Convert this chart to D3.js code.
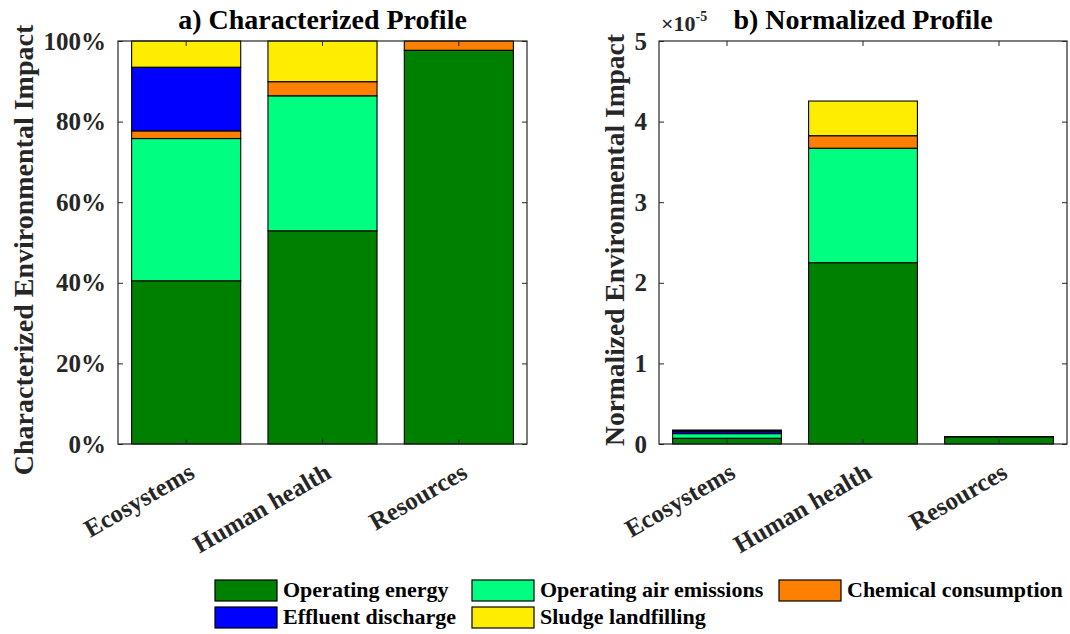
<!DOCTYPE html>
<html>
<head>
<meta charset="utf-8">
<script src="https://cdn.jsdelivr.net/npm/d3@7/dist/d3.min.js"></script>
<style>
  html, body { margin: 0; padding: 0; background: #fff; }
  svg { display: block; }
  text { font-family: "Liberation Serif", "Times New Roman", serif; font-weight: bold; }
</style>
</head>
<body>
<svg id="chart" width="1070" height="634"></svg>
<script>
// Impact categories (x axis)
const categories = ["Ecosystems", "Human health", "Resources"];

// Contributing processes, stacked bottom to top
const seriesNames = ["Operating energy", "Operating air emissions", "Chemical consumption",
                     "Effluent discharge", "Sludge landfilling"];
const seriesColors = ["#008000", "#00ff80", "#ff8000", "#0000ff", "#ffed00"];

// a) characterized contributions, percent of each category
const charEnergy   = [40.5, 52.9, 97.7];
const charAir      = [35.3, 33.5, 0];
const charChemical = [1.9, 3.5, 2.3];
const charEffluent = [15.8, 0, 0];
const charSludge   = [6.5, 10.1, 0];

// b) normalized impacts, in units of 1e-5
const normEnergy   = [0.071, 2.25, 0.089];
const normAir      = [0.058, 1.42, 0];
const normChemical = [0.003, 0.155, 0.002];
const normEffluent = [0.029, 0, 0];
const normSludge   = [0.012, 0.43, 0];

const percentTicks = [0, 20, 40, 60, 80, 100];
const normTicks = [0, 1, 2, 3, 4, 5];

const svg = d3.select("#chart");

function buildRows(cols) {
  return categories.map((c, i) => {
    const row = { category: c };
    seriesNames.forEach((s, k) => { row[s] = cols[k][i]; });
    return row;
  });
}

function drawPanel(opts) {
  const { left, right, top, bottom, rows, yMax, ticks, tickFmt, title, yLabel } = opts;
  const g = svg.append("g");

  const x = d3.scaleBand().domain(categories).range([left, right])
    .paddingInner(0.2).paddingOuter(0.1);
  const y = d3.scaleLinear().domain([0, yMax]).range([bottom, top]);

  const stack = d3.stack().keys(seriesNames)(rows);

  // stacked bars
  stack.forEach((layer, k) => {
    g.append("g")
      .selectAll("rect")
      .data(layer.filter(d => d[1] - d[0] > 0))
      .join("rect")
      .attr("x", d => x(d.data.category))
      .attr("width", x.bandwidth())
      .attr("y", d => y(d[1]))
      .attr("height", d => y(d[0]) - y(d[1]))
      .attr("fill", seriesColors[k])
      .attr("stroke", "#000")
      .attr("stroke-width", 1.1);
  });

  // axes with inward ticks on all four sides
  const tickLen = 5;
  const axL = g.append("g").attr("transform", `translate(${left},0)`)
    .call(d3.axisLeft(y).tickValues(ticks).tickFormat(tickFmt).tickSizeInner(-tickLen).tickSizeOuter(0).tickPadding(12));
  const axR = g.append("g").attr("transform", `translate(${right},0)`)
    .call(d3.axisRight(y).tickValues(ticks).tickFormat("").tickSizeInner(-tickLen).tickSizeOuter(0));
  const axB = g.append("g").attr("transform", `translate(0,${bottom})`)
    .call(d3.axisBottom(x).tickSizeInner(-tickLen).tickSizeOuter(0).tickFormat(""));
  const axT = g.append("g").attr("transform", `translate(0,${top})`)
    .call(d3.axisTop(x).tickSizeInner(-tickLen).tickSizeOuter(0).tickFormat(""));
  [axL, axR, axB, axT].forEach(a => {
    a.select(".domain").remove();
    a.selectAll(".tick line").attr("stroke", "#262626").attr("stroke-width", 1);
  });
  axL.selectAll(".tick text")
    .attr("font-size", 25).attr("font-family", "Liberation Serif").attr("font-weight", "bold")
    .attr("fill", "#262626");

  // axes box
  g.append("rect")
    .attr("x", left).attr("y", top)
    .attr("width", right - left).attr("height", bottom - top)
    .attr("fill", "none").attr("stroke", "#262626").attr("stroke-width", 1.2);

  // rotated category labels
  g.append("g").selectAll("text")
    .data(categories)
    .join("text")
    .attr("transform", d => `translate(${x(d) + x.bandwidth() / 2 + 10},${bottom + 33}) rotate(-30)`)
    .attr("text-anchor", "end")
    .attr("font-size", 25)
    .attr("fill", "#262626")
    .text(d => d);

  // title
  g.append("text")
    .attr("x", (left + right) / 2).attr("y", 29)
    .attr("text-anchor", "middle")
    .attr("font-size", 28)
    .attr("fill", "#000")
    .text(title);

  // y label
  g.append("text")
    .attr("transform", `translate(${opts.yLabelX},${opts.yLabelY}) rotate(-90)`)
    .attr("text-anchor", "middle")
    .attr("font-size", opts.yLabelSize)
    .attr("fill", "#262626")
    .text(yLabel);

  return { x, y };
}

drawPanel({
  left: 118, right: 527, top: 41, bottom: 444,
  rows: buildRows([charEnergy, charAir, charChemical, charEffluent, charSludge]),
  yMax: 100, ticks: percentTicks, tickFmt: d => d + "%",
  title: "a) Characterized Profile",
  yLabel: "Characterized Environmental Impact",
  yLabelX: 33, yLabelY: 250, yLabelSize: 28
});

drawPanel({
  left: 659, right: 1067, top: 41, bottom: 444,
  rows: buildRows([normEnergy, normAir, normChemical, normEffluent, normSludge]),
  yMax: 5, ticks: normTicks, tickFmt: d3.format("d"),
  title: "b) Normalized Profile",
  yLabel: "Normalized Environmental Impact",
  yLabelX: 624, yLabelY: 240, yLabelSize: 27.5
});

// exponent marker for panel b
const expo = svg.append("text")
  .attr("x", 661).attr("y", 31)
  .attr("font-size", 22)
  .attr("font-weight", "normal")
  .attr("fill", "#262626");
expo.append("tspan").text("\u00d710");
expo.append("tspan").attr("dy", -10).attr("font-size", 14).text("-5");

// legend, three columns across two rows
const legendCols = [215, 472, 779];
const legendRows = [580, 607];
const legend = svg.append("g");
seriesNames.forEach((name, i) => {
  const cx = legendCols[i % 3];
  const cy = legendRows[Math.floor(i / 3)];
  legend.append("rect")
    .attr("x", cx).attr("y", cy)
    .attr("width", 62).attr("height", 21)
    .attr("fill", seriesColors[i])
    .attr("stroke", "#000").attr("stroke-width", 1.2);
  legend.append("text")
    .attr("x", cx + 68).attr("y", cy + 17)
    .attr("font-size", 22)
    .attr("fill", "#000")
    .text(name);
});
</script>
</body>
</html>
